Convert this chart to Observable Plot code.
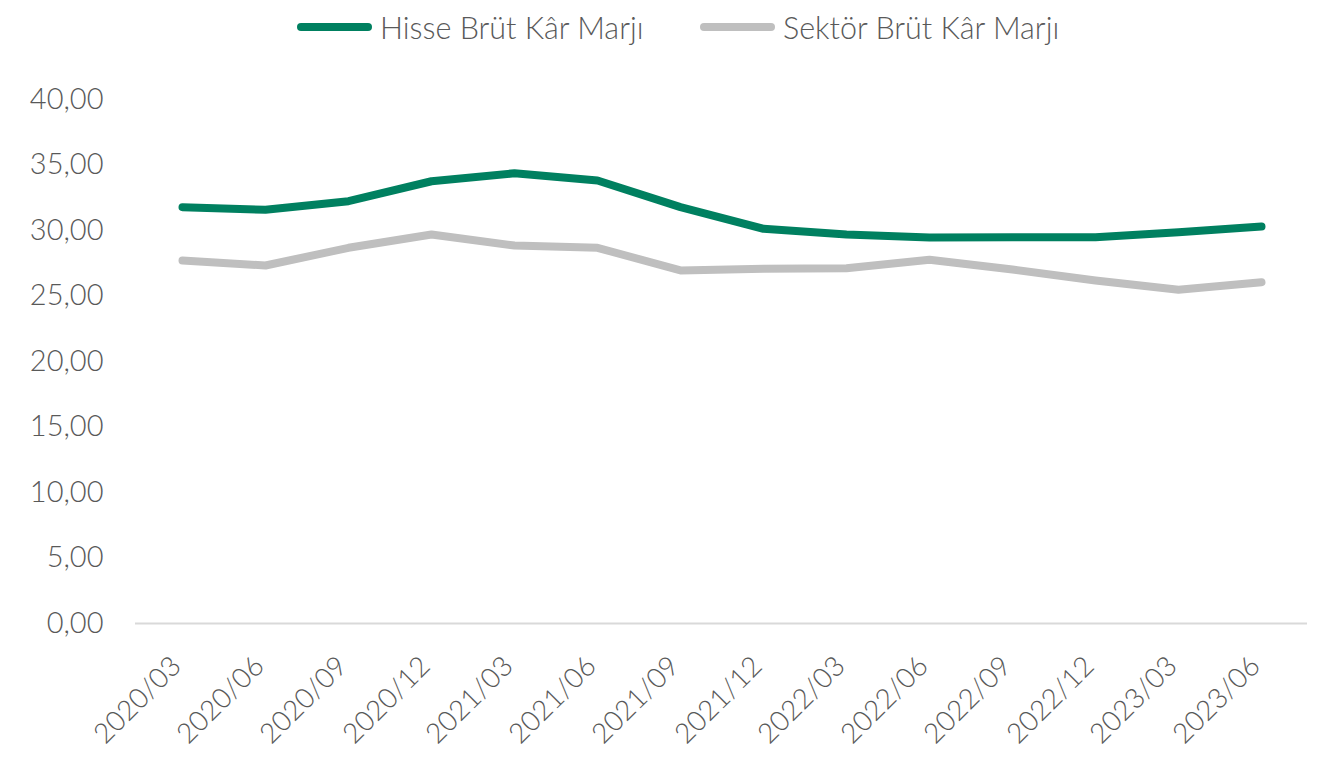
<!DOCTYPE html>
<html>
<head>
<meta charset="utf-8">
<script src="https://cdn.jsdelivr.net/npm/d3@7"></script>
<script src="https://cdn.jsdelivr.net/npm/@observablehq/plot@0.6"></script>
<style>
  body { margin: 0; background: #fff; font-family: Lato, "Open Sans", sans-serif; }
  #legend { position: relative; width: 1342px; height: 55px; }
  .sw { position: absolute; top: 23px; width: 75px; height: 8px; border-radius: 4px; }
  .lt { position: absolute; top: 27px; transform: translateY(-50%); font-size: 30.5px; font-weight: 300; color: #595959; white-space: nowrap; line-height: 1; }
</style>
</head>
<body>
<div id="legend"></div>
<div id="chart"></div>
<script>
const periods = ["2020/03","2020/06","2020/09","2020/12","2021/03","2021/06","2021/09","2021/12","2022/03","2022/06","2022/09","2022/12","2023/03","2023/06"];
const hisse = [31.78, 31.58, 32.24, 33.76, 34.37, 33.82, 31.78, 30.13, 29.69, 29.47, 29.49, 29.49, 29.87, 30.31];
const sektor = [27.71, 27.33, 28.68, 29.69, 28.85, 28.68, 26.95, 27.08, 27.12, 27.76, 27.02, 26.18, 25.47, 26.05];
const seriesNames = ["Hisse Brüt Kâr Marjı", "Sektör Brüt Kâr Marjı"];
const seriesColors = ["#008060", "#bfbfbf"];
const yTicks = [0, 5, 10, 15, 20, 25, 30, 35, 40];

const data = [];
periods.forEach((p, i) => {
  data.push({period: p, value: hisse[i], series: seriesNames[0]});
  data.push({period: p, value: sektor[i], series: seriesNames[1]});
});

// Legend
const legend = document.getElementById("legend");
const legendPos = [[297, 380], [700, 783]];
seriesNames.forEach((name, i) => {
  const sw = document.createElement("div");
  sw.className = "sw";
  sw.style.left = legendPos[i][0] + "px";
  sw.style.background = seriesColors[i];
  legend.appendChild(sw);
  const t = document.createElement("div");
  t.className = "lt";
  t.style.left = legendPos[i][1] + "px";
  t.textContent = name;
  legend.appendChild(t);
});

const fmt = v => d3.format(".2f")(v).replace(".", ",");

const chart = Plot.plot({
  width: 1342,
  height: 702,
  marginTop: 44,
  marginBottom: 134,
  marginLeft: 135,
  marginRight: 35,
  style: { fontFamily: "Lato, 'Open Sans', sans-serif", fontWeight: 300, color: "#595959", background: "#fff" },
  x: { type: "point", domain: periods, padding: 0.5, label: null },
  y: { domain: [0, 40], label: null },
  color: { domain: seriesNames, range: seriesColors },
  marks: [
    Plot.axisY({ ticks: yTicks, tickFormat: fmt, tickSize: 0, tickPadding: 32, fontSize: 29, fontWeight: 300, label: null }),
    Plot.axisX({ tickSize: 0, tickRotate: -45, tickPadding: 38, dx: -6, fontSize: 28, fontWeight: 300, label: null }),
    Plot.ruleY([0], { stroke: "#d9d9d9", strokeWidth: 2 }),
    Plot.line(data, { x: "period", y: "value", z: "series", stroke: "series", strokeWidth: 8, strokeLinecap: "round", strokeLinejoin: "round" })
  ]
});
document.getElementById("chart").appendChild(chart);
</script>
</body>
</html>
